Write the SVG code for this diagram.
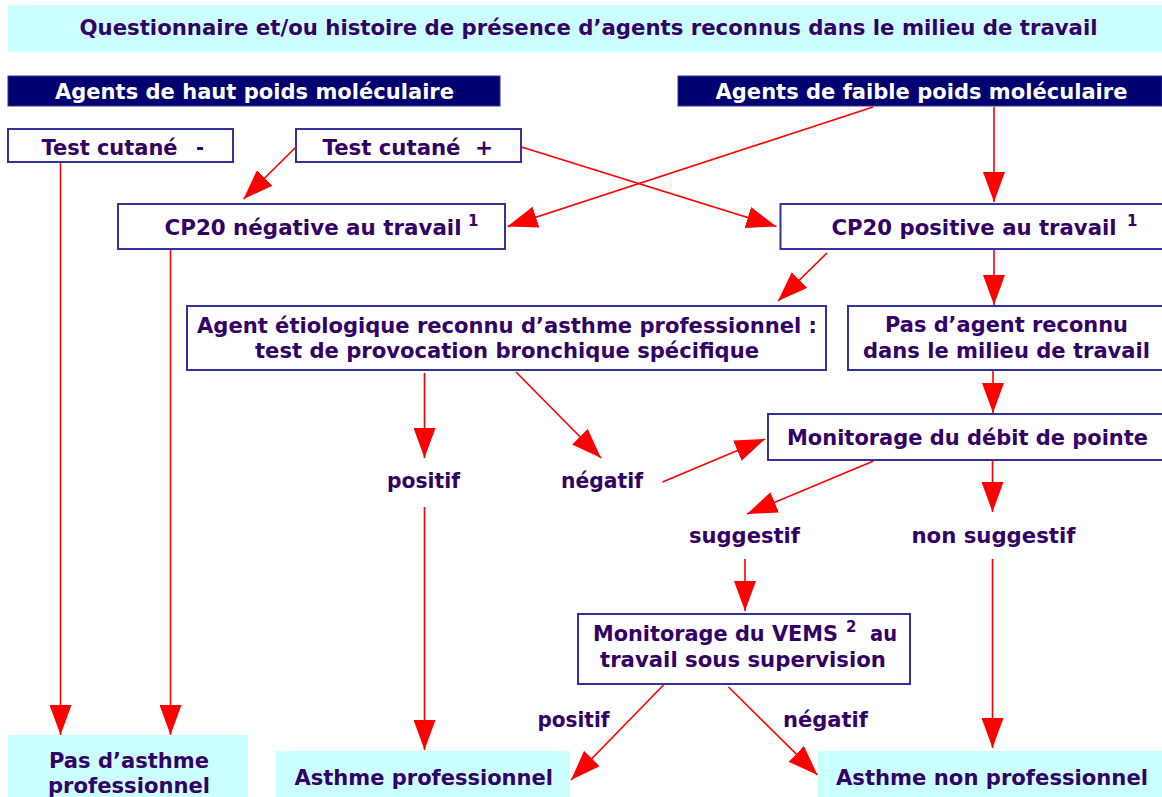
<svg xmlns="http://www.w3.org/2000/svg" width="1162" height="797" viewBox="0 0 1162 797">
<style>
.t{font-family:"DejaVu Sans","Verdana",sans-serif;font-weight:bold;font-size:21px;fill:#330066}
.w{font-family:"DejaVu Sans","Verdana",sans-serif;font-weight:bold;font-size:21px;fill:#ffffff}
.sup{font-family:"DejaVu Sans","Verdana",sans-serif;font-weight:bold;font-size:15px;fill:#330066}
.box{fill:#ffffff;stroke:#333399;stroke-width:2}
.cy{fill:#ccffff}
.nv{fill:#000070;stroke:#333399;stroke-width:1}
.c{fill:none;stroke:#ff0000;stroke-width:1.6;marker-end:url(#ah)}
</style>
<defs>
<marker id="ah" markerUnits="userSpaceOnUse" markerWidth="30" markerHeight="22" viewBox="0 0 30 22" refX="30" refY="11" orient="auto">
<path d="M0,0 L30,11 L0,22 Z" fill="#ff0000"/>
</marker>
</defs>
<rect width="1162" height="797" fill="#ffffff"/>

<g id="title"><rect class="cy" x="8" y="5" width="1154" height="47"/><text class="t" x="79.5" y="35" textLength="1018" lengthAdjust="spacingAndGlyphs">Questionnaire et/ou histoire de présence d’agents reconnus dans le milieu de travail</text></g>

<g id="haut"><rect class="nv" x="8" y="76" width="492" height="30"/><text class="w" x="55" y="99" textLength="399" lengthAdjust="spacingAndGlyphs">Agents de haut poids moléculaire</text></g>
<g id="faible"><rect class="nv" x="678" y="76" width="484" height="30"/><text class="w" x="715.5" y="99" textLength="412" lengthAdjust="spacingAndGlyphs">Agents de faible poids moléculaire</text></g>

<g id="tcneg"><rect class="box" x="8" y="129" width="225" height="33"/><text class="t" x="41.5" y="155" textLength="136" lengthAdjust="spacingAndGlyphs">Test cutané</text><text class="t" x="196" y="155" textLength="8" lengthAdjust="spacingAndGlyphs">-</text></g>
<g id="tcpos"><rect class="box" x="296" y="129" width="225" height="33"/><text class="t" x="322.5" y="155" textLength="138" lengthAdjust="spacingAndGlyphs">Test cutané</text><text class="t" x="475" y="155" textLength="18" lengthAdjust="spacingAndGlyphs">+</text></g>

<g id="cp20neg"><rect class="box" x="118" y="204" width="387" height="45"/><text class="t" x="164.5" y="235" textLength="297" lengthAdjust="spacingAndGlyphs">CP20 négative au travail</text><text class="sup" x="468" y="226">1</text></g>
<g id="cp20pos"><rect class="box" x="780.5" y="204" width="385" height="45"/><text class="t" x="831.5" y="235" textLength="285" lengthAdjust="spacingAndGlyphs">CP20 positive au travail</text><text class="sup" x="1127" y="226">1</text></g>

<g id="etio"><rect class="box" x="187" y="306" width="639" height="64"/><text class="t" x="197" y="333" textLength="620" lengthAdjust="spacingAndGlyphs">Agent étiologique reconnu d’asthme professionnel :</text><text class="t" x="255" y="358" textLength="504" lengthAdjust="spacingAndGlyphs">test de provocation bronchique spécifique</text></g>
<g id="pasagent"><rect class="box" x="848" y="306" width="316" height="64"/><text class="t" x="885" y="332" textLength="243" lengthAdjust="spacingAndGlyphs">Pas d’agent reconnu</text><text class="t" x="863" y="358" textLength="287" lengthAdjust="spacingAndGlyphs">dans le milieu de travail</text></g>

<g id="debit"><rect class="box" x="768" y="414" width="396" height="46"/><text class="t" x="787" y="445" textLength="361" lengthAdjust="spacingAndGlyphs">Monitorage du débit de pointe</text></g>

<g id="lbl-positif1"><text class="t" x="387" y="488" textLength="73" lengthAdjust="spacingAndGlyphs">positif</text></g>
<g id="lbl-negatif1"><text class="t" x="561" y="488" textLength="82" lengthAdjust="spacingAndGlyphs">négatif</text></g>
<g id="lbl-suggestif"><text class="t" x="689" y="543" textLength="111" lengthAdjust="spacingAndGlyphs">suggestif</text></g>
<g id="lbl-nonsuggestif"><text class="t" x="911.5" y="543" textLength="164" lengthAdjust="spacingAndGlyphs">non suggestif</text></g>

<g id="vems"><rect class="box" x="578" y="614" width="332" height="70"/><text class="t" x="593" y="641" textLength="245" lengthAdjust="spacingAndGlyphs">Monitorage du VEMS</text><text class="sup" x="846" y="632">2</text><text class="t" x="870" y="641" textLength="27" lengthAdjust="spacingAndGlyphs">au</text><text class="t" x="600" y="667" textLength="286" lengthAdjust="spacingAndGlyphs">travail sous supervision</text></g>

<g id="lbl-positif2"><text class="t" x="537.5" y="727" textLength="72" lengthAdjust="spacingAndGlyphs">positif</text></g>
<g id="lbl-negatif2"><text class="t" x="783" y="727" textLength="85" lengthAdjust="spacingAndGlyphs">négatif</text></g>

<g id="pasasthme"><rect class="cy" x="8" y="735" width="240" height="62"/><text class="t" x="49" y="768" textLength="160" lengthAdjust="spacingAndGlyphs">Pas d’asthme</text><text class="t" x="48" y="793" textLength="162" lengthAdjust="spacingAndGlyphs">professionnel</text></g>
<g id="asthmepro"><rect class="cy" x="275.5" y="751" width="294.5" height="46"/><text class="t" x="294.5" y="785" textLength="258.5" lengthAdjust="spacingAndGlyphs">Asthme professionnel</text></g>
<g id="asthmenonpro"><rect class="cy" x="817.5" y="751" width="344.5" height="46"/><text class="t" x="836" y="785" textLength="312" lengthAdjust="spacingAndGlyphs">Asthme non professionnel</text></g>

<g id="connectors">
<path class="c" d="M60.5,163 V735"/>
<path class="c" d="M170.5,250 V735"/>
<path class="c" d="M296,147 L243.5,199"/>
<path class="c" d="M521.5,147 L776.5,226.5"/>
<path class="c" d="M873,107 L507.5,226.5"/>
<path class="c" d="M994,107 V202"/>
<path class="c" d="M827,253 L778,301"/>
<path class="c" d="M994,250 V305"/>
<path class="c" d="M993,371 V413"/>
<path class="c" d="M424.5,373 V458"/>
<path class="c" d="M516,372 L601,458"/>
<path class="c" d="M662.5,482 L765,439"/>
<path class="c" d="M873.5,461 L747,514"/>
<path class="c" d="M992.5,460 V512"/>
<path class="c" d="M745,559 V611"/>
<path class="c" d="M424.5,507 V750"/>
<path class="c" d="M992.5,559 V748"/>
<path class="c" d="M663.5,685 L571,780"/>
<path class="c" d="M728.5,687 L817.5,775"/>
</g>
</svg>
